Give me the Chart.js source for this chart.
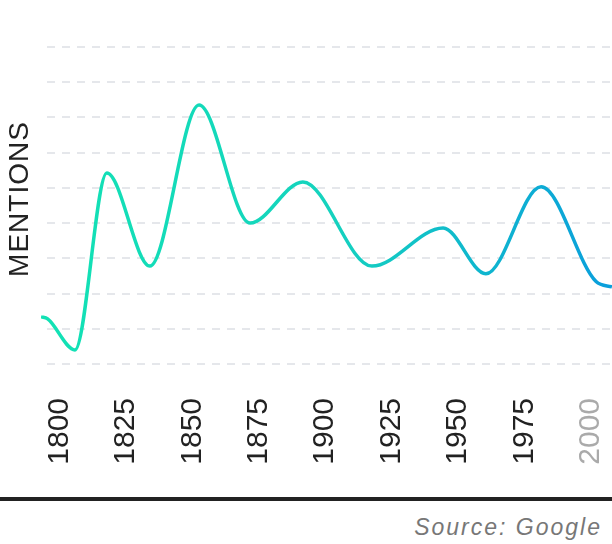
<!DOCTYPE html>
<html>
<head>
<meta charset="utf-8">
<script src="https://cdn.jsdelivr.net/npm/chart.js@4"></script>
<style>
  html, body { margin: 0; padding: 0; background: #fff; }
  body { width: 612px; height: 544px; overflow: hidden; font-family: "Liberation Sans", Arial, sans-serif; }
  .chart-box { position: relative; width: 612px; height: 497px; }
  .rule { height: 4px; background: #222; }
  .source { text-align: right; padding-right: 10px; margin-top: 13px; font-size: 23px; font-style: italic; color: #777; letter-spacing: 2px; }
</style>
</head>
<body>
<div class="chart-box"><canvas id="mentionsChart"></canvas></div>
<div class="rule"></div>
<div class="source">Source: Google</div>
<script>
// values
const years = [1793, 1795.5, 1805.8, 1817.8, 1834, 1852.5, 1871.7, 1891.6, 1917.6, 1944.4, 1960.5, 1981.3, 2002, 2008];
const mentions = [1.34, 1.28, 0.40, 5.42, 2.78, 7.35, 4.0, 5.17, 2.78, 3.86, 2.56, 5.03, 2.34, 2.19];
const tickYears = [1800, 1825, 1850, 1875, 1900, 1925, 1950, 1975, 2000];
const yTitle = 'MENTIONS';

const points = years.map((y, i) => ({ x: y, y: mentions[i] }));

// horizontal gradient across the plot area
const lineGradient = (context) => {
  const { ctx, chartArea } = context.chart;
  if (!chartArea) return '#14e0b6';
  const g = ctx.createLinearGradient(chartArea.left, 0, chartArea.right, 0);
  g.addColorStop(0, '#12e2b4');
  g.addColorStop(0.5, '#15d3be');
  g.addColorStop(1, '#0a9edc');
  return g;
};

// y title drawn by hand so it can get a little letter spacing
const yTitlePlugin = {
  id: 'yTitle',
  afterDraw(chart) {
    const ctx = chart.ctx;
    ctx.save();
    ctx.translate(20, 199);
    ctx.rotate(-Math.PI / 2);
    ctx.font = '28px "Liberation Sans", Arial, sans-serif';
    ctx.letterSpacing = '1px';
    ctx.fillStyle = '#222';
    ctx.textAlign = 'center';
    ctx.textBaseline = 'middle';
    ctx.fillText(yTitle, 0, 0);
    ctx.restore();
  }
};

new Chart(document.getElementById('mentionsChart'), {
  type: 'line',
  data: {
    datasets: [{
      data: points,
      borderColor: lineGradient,
      borderWidth: 3.5,
      pointRadius: 0,
      fill: false,
      cubicInterpolationMode: 'monotone'
    }]
  },
  plugins: [yTitlePlugin],
  options: {
    responsive: true,
    maintainAspectRatio: false,
    animation: false,
    layout: { padding: { top: 47, right: 0, left: 0, bottom: 0 } },
    plugins: { legend: { display: false }, tooltip: { enabled: false } },
    scales: {
      x: {
        type: 'linear',
        min: 1793,
        max: 2008,
        afterFit: (scale) => {
          scale.height = 133;
          scale.paddingLeft = 0;
          scale.paddingRight = 0;
        },
        afterBuildTicks: (scale) => { scale.ticks = tickYears.map(v => ({ value: v })); },
        grid: { display: false, drawTicks: false },
        border: { display: false },
        ticks: {
          autoSkip: false,
          minRotation: 90,
          maxRotation: 90,
          padding: 34,
          font: { family: '"Liberation Sans", Arial, sans-serif', size: 30 },
          color: (c) => c.tick && c.tick.value === 2000 ? '#aaaaaa' : '#222222',
          callback: (v) => String(v)
        }
      },
      y: {
        min: 0,
        max: 9,
        afterFit: (scale) => { scale.width = 41; },
        grid: {
          color: '#e5e7eb',
          lineWidth: 2,
          drawTicks: false
        },
        border: { display: false, dash: [8, 7], dashOffset: 9 },
        ticks: { display: false, stepSize: 1 }
      }
    }
  }
});
</script>
</body>
</html>
